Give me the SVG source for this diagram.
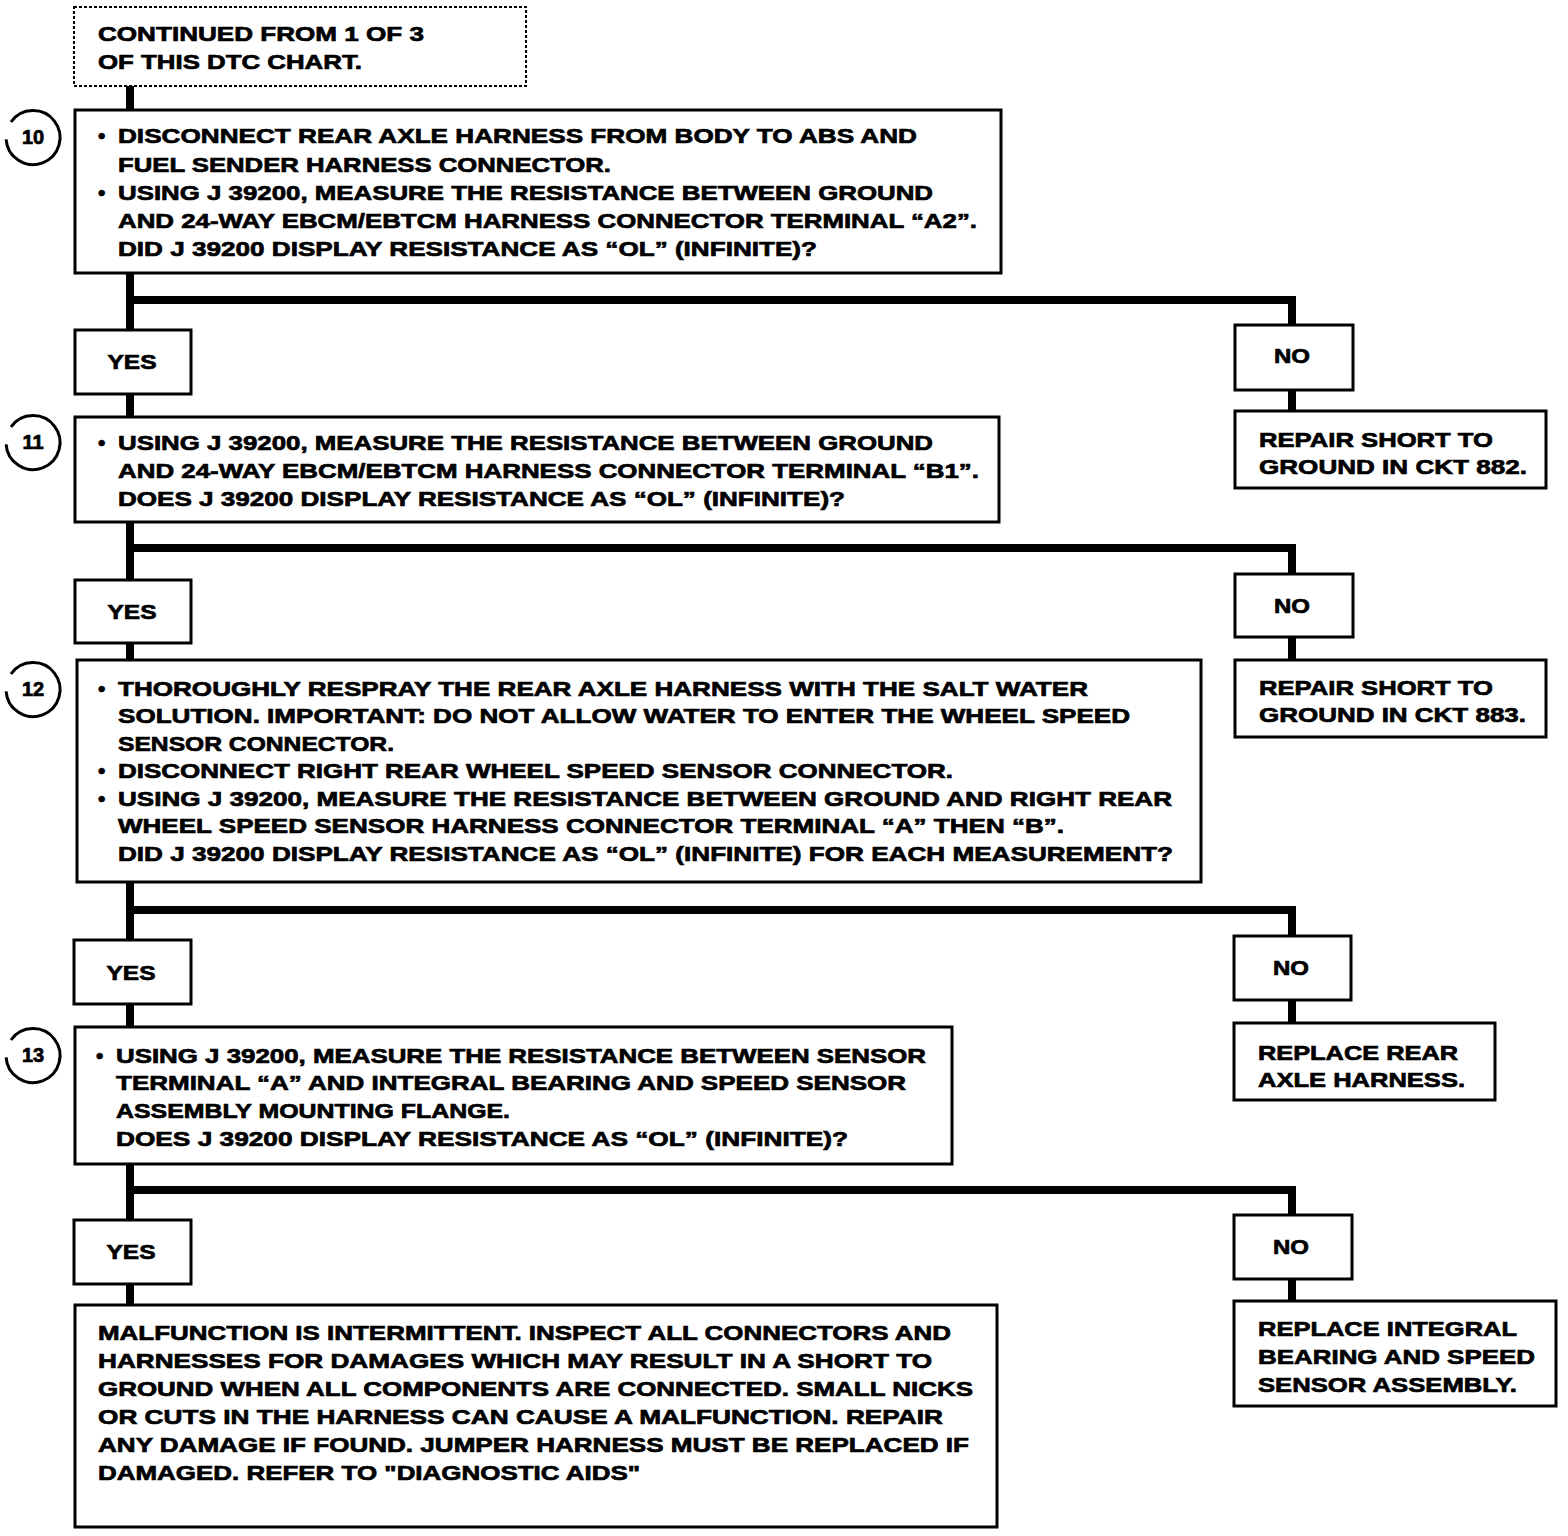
<svg xmlns="http://www.w3.org/2000/svg" width="1568" height="1536" viewBox="0 0 1568 1536">
<style>
.bg{fill:#fff}
.box{fill:#fff;stroke:#000;stroke-width:3}
.dot{fill:#fff;stroke:#000;stroke-width:2;stroke-dasharray:3 2}
.conn{fill:none;stroke:#000;stroke-width:8;stroke-linejoin:miter}
.circ{fill:none;stroke:#000;stroke-width:3}
text{font-family:"Liberation Sans",Arial,sans-serif;font-weight:bold;font-size:21px;fill:#000;stroke:#000;stroke-width:0.7}
.num{font-size:20px;text-anchor:middle}
.mid{text-anchor:middle}
</style>
<rect class="bg" x="0" y="0" width="1568" height="1536"/>
<g id="connectors">
<path class="conn" d="M130 86 V110"/>
<path class="conn" d="M130 273 V330"/>
<path class="conn" d="M130 300 H1292 V325"/>
<path class="conn" d="M1292 390 V411"/>
<path class="conn" d="M130 394 V417"/>
<path class="conn" d="M130 522 V580"/>
<path class="conn" d="M130 548 H1292 V574"/>
<path class="conn" d="M1292 637 V660"/>
<path class="conn" d="M130 643 V660"/>
<path class="conn" d="M130 882 V940"/>
<path class="conn" d="M130 910 H1292 V936"/>
<path class="conn" d="M1292 1000 V1023"/>
<path class="conn" d="M130 1004 V1027"/>
<path class="conn" d="M130 1164 V1220"/>
<path class="conn" d="M130 1190 H1292 V1215"/>
<path class="conn" d="M1292 1279 V1301"/>
<path class="conn" d="M130 1284 V1305"/>
</g>
<g id="start">
<rect class="dot" x="74" y="7" width="452" height="79"/>
<text x="98" y="41" textLength="326" lengthAdjust="spacingAndGlyphs">CONTINUED FROM 1 OF 3</text>
<text x="98" y="69" textLength="264" lengthAdjust="spacingAndGlyphs">OF THIS DTC CHART.</text>
</g>
<g id="step10">
<path class="circ" d="M11 122 A27 27 0 1 1 6.1 139.4"/>
<text class="num" x="33" y="144">10</text>
<rect class="box" x="75" y="110" width="926" height="163"/>
<text x="98" y="143">•</text>
<text x="118" y="143" textLength="799" lengthAdjust="spacingAndGlyphs">DISCONNECT REAR AXLE HARNESS FROM BODY TO ABS AND</text>
<text x="118" y="172" textLength="493" lengthAdjust="spacingAndGlyphs">FUEL SENDER HARNESS CONNECTOR.</text>
<text x="98" y="200">•</text>
<text x="118" y="200" textLength="815" lengthAdjust="spacingAndGlyphs">USING J 39200, MEASURE THE RESISTANCE BETWEEN GROUND</text>
<text x="118" y="228" textLength="859" lengthAdjust="spacingAndGlyphs">AND 24-WAY EBCM/EBTCM HARNESS CONNECTOR TERMINAL “A2”.</text>
<text x="118" y="256" textLength="699" lengthAdjust="spacingAndGlyphs">DID J 39200 DISPLAY RESISTANCE AS “OL” (INFINITE)?</text>
</g>
<g id="yes1">
<rect class="box" x="75" y="330" width="116" height="64"/>
<text class="mid" x="132" y="369" textLength="49" lengthAdjust="spacingAndGlyphs">YES</text>
</g>
<g id="no1">
<rect class="box" x="1235" y="325" width="118" height="65"/>
<text class="mid" x="1292" y="363" textLength="36" lengthAdjust="spacingAndGlyphs">NO</text>
</g>
<g id="repair882">
<rect class="box" x="1235" y="411" width="311" height="77"/>
<text x="1259" y="447" textLength="234" lengthAdjust="spacingAndGlyphs">REPAIR SHORT TO</text>
<text x="1259" y="474" textLength="268" lengthAdjust="spacingAndGlyphs">GROUND IN CKT 882.</text>
</g>
<g id="step11">
<path class="circ" d="M11 427 A27 27 0 1 1 6.1 444.4"/>
<text class="num" x="33" y="449">11</text>
<rect class="box" x="75" y="417" width="924" height="105"/>
<text x="98" y="450">•</text>
<text x="118" y="450" textLength="815" lengthAdjust="spacingAndGlyphs">USING J 39200, MEASURE THE RESISTANCE BETWEEN GROUND</text>
<text x="118" y="478" textLength="861" lengthAdjust="spacingAndGlyphs">AND 24-WAY EBCM/EBTCM HARNESS CONNECTOR TERMINAL “B1”.</text>
<text x="118" y="506" textLength="727" lengthAdjust="spacingAndGlyphs">DOES J 39200 DISPLAY RESISTANCE AS “OL” (INFINITE)?</text>
</g>
<g id="yes2">
<rect class="box" x="75" y="580" width="116" height="63"/>
<text class="mid" x="132" y="619" textLength="49" lengthAdjust="spacingAndGlyphs">YES</text>
</g>
<g id="no2">
<rect class="box" x="1235" y="574" width="118" height="63"/>
<text class="mid" x="1292" y="613" textLength="36" lengthAdjust="spacingAndGlyphs">NO</text>
</g>
<g id="repair883">
<rect class="box" x="1235" y="660" width="311" height="77"/>
<text x="1259" y="695" textLength="234" lengthAdjust="spacingAndGlyphs">REPAIR SHORT TO</text>
<text x="1259" y="722" textLength="267" lengthAdjust="spacingAndGlyphs">GROUND IN CKT 883.</text>
</g>
<g id="step12">
<path class="circ" d="M11 674 A27 27 0 1 1 6.1 691.4"/>
<text class="num" x="33" y="696">12</text>
<rect class="box" x="77" y="660" width="1124" height="222"/>
<text x="98" y="696">•</text>
<text x="118" y="696" textLength="970" lengthAdjust="spacingAndGlyphs">THOROUGHLY RESPRAY THE REAR AXLE HARNESS WITH THE SALT WATER</text>
<text x="118" y="723" textLength="1012" lengthAdjust="spacingAndGlyphs">SOLUTION. IMPORTANT: DO NOT ALLOW WATER TO ENTER THE WHEEL SPEED</text>
<text x="118" y="751" textLength="276" lengthAdjust="spacingAndGlyphs">SENSOR CONNECTOR.</text>
<text x="98" y="778">•</text>
<text x="118" y="778" textLength="835" lengthAdjust="spacingAndGlyphs">DISCONNECT RIGHT REAR WHEEL SPEED SENSOR CONNECTOR.</text>
<text x="98" y="806">•</text>
<text x="118" y="806" textLength="1054" lengthAdjust="spacingAndGlyphs">USING J 39200, MEASURE THE RESISTANCE BETWEEN GROUND AND RIGHT REAR</text>
<text x="118" y="833" textLength="946" lengthAdjust="spacingAndGlyphs">WHEEL SPEED SENSOR HARNESS CONNECTOR TERMINAL “A” THEN “B”.</text>
<text x="118" y="861" textLength="1055" lengthAdjust="spacingAndGlyphs">DID J 39200 DISPLAY RESISTANCE AS “OL” (INFINITE) FOR EACH MEASUREMENT?</text>
</g>
<g id="yes3">
<rect class="box" x="74" y="940" width="117" height="64"/>
<text class="mid" x="131" y="980" textLength="49" lengthAdjust="spacingAndGlyphs">YES</text>
</g>
<g id="no3">
<rect class="box" x="1234" y="936" width="117" height="64"/>
<text class="mid" x="1291" y="975" textLength="36" lengthAdjust="spacingAndGlyphs">NO</text>
</g>
<g id="replaceHarness">
<rect class="box" x="1234" y="1023" width="261" height="77"/>
<text x="1258" y="1060" textLength="200" lengthAdjust="spacingAndGlyphs">REPLACE REAR</text>
<text x="1258" y="1087" textLength="207" lengthAdjust="spacingAndGlyphs">AXLE HARNESS.</text>
</g>
<g id="step13">
<path class="circ" d="M11 1040 A27 27 0 1 1 6.1 1057.4"/>
<text class="num" x="33" y="1062">13</text>
<rect class="box" x="75" y="1027" width="877" height="137"/>
<text x="96" y="1063">•</text>
<text x="116" y="1063" textLength="810" lengthAdjust="spacingAndGlyphs">USING J 39200, MEASURE THE RESISTANCE BETWEEN SENSOR</text>
<text x="116" y="1090" textLength="790" lengthAdjust="spacingAndGlyphs">TERMINAL “A” AND INTEGRAL BEARING AND SPEED SENSOR</text>
<text x="116" y="1118" textLength="394" lengthAdjust="spacingAndGlyphs">ASSEMBLY MOUNTING FLANGE.</text>
<text x="116" y="1146" textLength="732" lengthAdjust="spacingAndGlyphs">DOES J 39200 DISPLAY RESISTANCE AS “OL” (INFINITE)?</text>
</g>
<g id="yes4">
<rect class="box" x="74" y="1220" width="117" height="64"/>
<text class="mid" x="131" y="1259" textLength="49" lengthAdjust="spacingAndGlyphs">YES</text>
</g>
<g id="no4">
<rect class="box" x="1234" y="1215" width="118" height="64"/>
<text class="mid" x="1291" y="1254" textLength="36" lengthAdjust="spacingAndGlyphs">NO</text>
</g>
<g id="replaceSensor">
<rect class="box" x="1234" y="1301" width="322" height="105"/>
<text x="1258" y="1336" textLength="259" lengthAdjust="spacingAndGlyphs">REPLACE INTEGRAL</text>
<text x="1258" y="1364" textLength="277" lengthAdjust="spacingAndGlyphs">BEARING AND SPEED</text>
<text x="1258" y="1392" textLength="259" lengthAdjust="spacingAndGlyphs">SENSOR ASSEMBLY.</text>
</g>
<g id="intermittent">
<rect class="box" x="75" y="1305" width="922" height="222"/>
<text x="98" y="1340" textLength="853" lengthAdjust="spacingAndGlyphs">MALFUNCTION IS INTERMITTENT. INSPECT ALL CONNECTORS AND</text>
<text x="98" y="1368" textLength="834" lengthAdjust="spacingAndGlyphs">HARNESSES FOR DAMAGES WHICH MAY RESULT IN A SHORT TO</text>
<text x="98" y="1396" textLength="875" lengthAdjust="spacingAndGlyphs">GROUND WHEN ALL COMPONENTS ARE CONNECTED. SMALL NICKS</text>
<text x="98" y="1424" textLength="845" lengthAdjust="spacingAndGlyphs">OR CUTS IN THE HARNESS CAN CAUSE A MALFUNCTION. REPAIR</text>
<text x="98" y="1452" textLength="871" lengthAdjust="spacingAndGlyphs">ANY DAMAGE IF FOUND. JUMPER HARNESS MUST BE REPLACED IF</text>
<text x="98" y="1480" textLength="542" lengthAdjust="spacingAndGlyphs">DAMAGED. REFER TO "DIAGNOSTIC AIDS"</text>
</g>
</svg>
